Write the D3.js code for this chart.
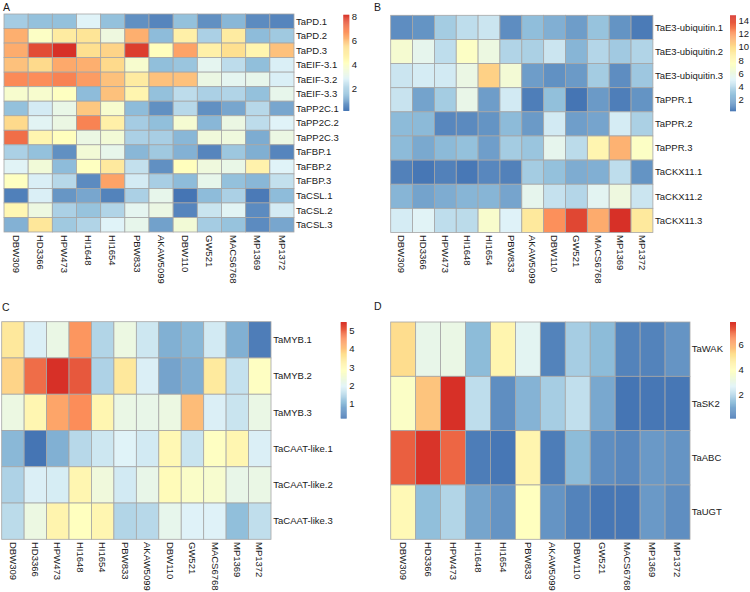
<!DOCTYPE html>
<html>
<head>
<meta charset="utf-8">
<script src="https://cdn.jsdelivr.net/npm/d3@7"></script>
<style>
	body { margin: 0; background: #fff; }
	svg { display: block; }
	text { font-family: "Liberation Sans", Arial, sans-serif; fill: #1a1a1a; }
</style>
</head>
<body>
<script>

// cultivars, same order on every panel
const cultivars = ['DBW309', 'HD3366', 'HPW473', 'HI1648', 'HI1654', 'PBW833', 'AKAW5099', 'DBW110', 'GW521', 'MACS6768', 'MP1369', 'MP1372']

// A
const genesA = ['TaPD.1', 'TaPD.2', 'TaPD.3', 'TaEIF-3.1', 'TaEIF-3.2', 'TaEIF-3.3', 'TaPP2C.1', 'TaPP2C.2', 'TaPP2C.3', 'TaFBP.1', 'TaFBP.2', 'TaFBP.3', 'TaCSL.1', 'TaCSL.2', 'TaCSL.3']
const valuesA = [
	[1.8, 1.5, 1.5, 2.8, 1.5, 0.6, 0.4, 1.5, 0.6, 1.3, 0.5, 0.4],
	[6.3, 4.0, 5.0, 5.3, 3.4, 6.3, 1.4, 4.8, 1.9, 5.0, 1.4, 1.7],
	[6.35, 7.8, 8.2, 5.5, 5.7, 8.0, 4.2, 6.5, 4.8, 5.5, 4.6, 6.0],
	[6.0, 5.6, 6.4, 6.3, 5.6, 3.8, 1.45, 1.6, 3.0, 2.2, 1.45, 2.7],
	[6.9, 6.85, 7.0, 6.6, 6.0, 5.0, 6.0, 6.0, 3.3, 3.0, 3.1, 2.7],
	[3.8, 3.8, 4.1, 1.4, 6.0, 4.6, 1.5, 2.2, 1.9, 2.0, 1.5, 3.1],
	[1.5, 2.6, 3.2, 5.9, 3.8, 1.4, 0.6, 2.1, 0.6, 1.0, 2.1, 1.0],
	[5.6, 2.9, 3.3, 7.0, 4.8, 1.8, 1.45, 3.7, 1.3, 3.3, 2.2, 2.8],
	[7.3, 4.6, 4.2, 3.3, 3.6, 1.9, 1.85, 1.3, 3.5, 3.45, 1.1, 3.3],
	[1.9, 1.5, 0.6, 3.6, 3.1, 1.3, 1.7, 1.2, 0.4, 1.65, 1.15, 0.4],
	[2.85, 3.55, 1.4, 4.1, 5.1, 2.3, 0.6, 4.2, 3.45, 3.2, 4.7, 2.8],
	[4.1, 2.7, 2.1, 0.5, 6.5, 2.6, 1.85, 1.4, 3.1, 1.5, 1.3, 2.3],
	[0.3, 2.7, 0.7, 1.0, 0.35, 1.9, 3.1, 0.1, 1.4, 1.9, 0.2, 1.4],
	[4.5, 3.35, 1.9, 1.55, 2.0, 3.0, 3.3, 0.4, 2.4, 2.9, 0.5, 2.6],
	[1.2, 5.2, 1.7, 2.0, 2.8, 3.1, 0.9, 3.6, 1.8, 1.55, 0.5, 1.0]
]

// B
const genesB = ['TaE3-ubiquitin.1', 'TaE3-ubiquitin.2', 'TaE3-ubiquitin.3', 'TaPPR.1', 'TaPPR.2', 'TaPPR.3', 'TaCKX11.1', 'TaCKX11.2', 'TaCKX11.3']
const valuesB = [
	[1.1, 1.3, 3.3, 4.1, 4.5, 1.1, 2.7, 2.2, 1.6, 2.9, 1.3, 0.5],
	[6.8, 5.6, 4.1, 7.3, 6.1, 3.7, 3.5, 4.5, 2.4, 3.8, 3.2, 3.7],
	[4.5, 4.8, 4.7, 6.0, 10.4, 6.6, 1.6, 1.2, 1.5, 3.3, 1.1, 3.1],
	[4.4, 1.8, 3.3, 5.8, 1.6, 4.7, 0.6, 2.75, 0.3, 1.5, 0.6, 1.3],
	[2.6, 2.55, 0.9, 1.0, 1.3, 2.6, 1.5, 4.7, 1.65, 1.85, 4.8, 3.5],
	[2.6, 2.0, 2.55, 2.8, 1.65, 3.3, 3.0, 5.6, 4.0, 8.3, 11.3, 7.3],
	[0.7, 0.35, 0.7, 0.4, 0.9, 0.7, 3.3, 2.8, 2.1, 2.2, 4.1, 1.3],
	[2.4, 1.8, 2.1, 2.4, 2.4, 1.85, 5.6, 4.3, 3.8, 5.4, 6.2, 4.5],
	[4.8, 5.2, 4.1, 4.0, 7.0, 5.1, 9.3, 12.3, 14.2, 11.5, 14.8, 9.3]
]

// C
const genesC = ['TaMYB.1', 'TaMYB.2', 'TaMYB.3', 'TaCAAT-like.1', 'TaCAAT-like.2', 'TaCAAT-like.3']
const valuesC = [
	[3.5, 1.9, 2.25, 4.5, 1.45, 2.3, 1.75, 0.9, 1.0, 1.8, 0.9, 0.3],
	[3.85, 4.9, 5.48, 5.1, 1.4, 3.5, 1.9, 0.75, 0.88, 3.45, 1.65, 2.8],
	[2.3, 3.1, 4.35, 4.6, 3.1, 2.25, 2.2, 2.3, 4.1, 1.9, 1.7, 2.25],
	[1.0, 0.2, 0.9, 1.5, 1.75, 1.96, 1.8, 3.05, 1.7, 2.8, 3.1, 1.9],
	[1.4, 1.9, 1.85, 3.1, 2.4, 1.8, 2.2, 2.95, 2.7, 2.6, 2.2, 2.25],
	[1.55, 2.3, 3.15, 2.84, 3.1, 1.45, 1.5, 2.15, 1.95, 1.95, 1.08, 1.6]
]

// D
const genesD = ['TaWAK', 'TaSK2', 'TaABC', 'TaUGT']
const valuesD = [
	[5.3, 3.0, 3.1, 1.3, 4.4, 2.8, 0.3, 1.7, 1.3, 0.3, 0.3, 0.6],
	[3.8, 5.7, 7.86, 2.1, 0.5, 1.15, 1.7, 2.15, 0.95, 0.06, 0.1, 0.1],
	[7.2, 7.8, 7.1, 0.2, 0.1, 4.4, 0.2, 1.3, 0.5, 0.4, 0.7, 0.6],
	[4.2, 1.36, 1.9, 0.9, 0.6, 3.96, 0.6, 0.3, 0.1, 0.1, 0.7, 0.5]
]

// reversed RdYlBu (7), as pheatmap uses
const palette = ['#4575B4', '#91BFDB', '#E0F3F8', '#FFFFBF', '#FEE090', '#FC8D59', '#D73027']

const panels = [
	{letter: 'A', lx: 3, ly: 10.7, genes: genesA, values: valuesA, x: 4, y: 14, w: 290, h: 218, labX: 296, colY: 235, legX: 343.3, legY: 14.7, legH: 96},
	{letter: 'B', lx: 374, ly: 10.7, genes: genesB, values: valuesB, x: 390.7, y: 15.3, w: 262.2, h: 217.2, labX: 655, colY: 235, legX: 730, legY: 15.3, legH: 95.7},
	{letter: 'C', lx: 2, ly: 311, genes: genesC, values: valuesC, x: 1.7, y: 321.7, w: 269.3, h: 217.6, labX: 273.3, colY: 542, legX: 340.7, legY: 322, legH: 96.3},
	{letter: 'D', lx: 374, ly: 310, genes: genesD, values: valuesD, x: 390.7, y: 322, w: 299.3, h: 217.3, labX: 691.7, colY: 542, legX: 730, legY: 322, legH: 96.3}
]

const svg = d3.select('body').append('svg')
	.attr('width', 750)
	.attr('height', 592)

panels.forEach(p => {
	const ext = d3.extent(p.values.flat())
	const color = d3.scaleLinear()
		.domain(palette.map((c, i) => ext[0] + i*(ext[1]-ext[0])/(palette.length-1)))
		.range(palette)
		.interpolate(d3.interpolateRgb)

	const x = d3.scaleBand().domain(cultivars).range([p.x, p.x+p.w])
	const y = d3.scaleBand().domain(p.genes).range([p.y, p.y+p.h])

	const g = svg.append('g')

	g.append('text')
		.attr('x', p.lx)
		.attr('y', p.ly)
		.style('font-size', '10.5px')
		.text(p.letter)

	//cells
	const cells = []
	p.values.forEach((row, i) => row.forEach((v, j) => cells.push({gene: p.genes[i], cv: cultivars[j], v: v})))
	g.selectAll('rect.cell').data(cells).join('rect')
		.attr('class', 'cell')
		.attr('x', d => x(d.cv))
		.attr('y', d => y(d.gene))
		.attr('width', x.bandwidth())
		.attr('height', y.bandwidth())
		.attr('fill', d => color(d.v))
		.attr('stroke', '#a6a6a6')
		.attr('stroke-width', 0.8)

	//row labels
	g.selectAll('text.row').data(p.genes).join('text')
		.attr('class', 'row')
		.attr('x', p.labX)
		.attr('y', d => y(d) + y.bandwidth()/2)
		.attr('dy', '0.35em')
		.style('font-size', '9.5px')
		.text(d => d)

	//column labels, rotated
	g.selectAll('text.col').data(cultivars).join('text')
		.attr('class', 'col')
		.attr('transform', d => 'translate(' + (x(d) + x.bandwidth()/2) + ',' + p.colY + ') rotate(90)')
		.attr('dy', '0.35em')
		.style('font-size', '9.5px')
		.text(d => d)

	//legend
	const ly = d3.scaleLinear().domain(ext).range([p.legY + p.legH, p.legY])
	const steps = d3.range(100).map(k => ext[0] + (k + 0.5)*(ext[1]-ext[0])/100)
	const stepH = p.legH/100
	g.selectAll('rect.leg').data(steps).join('rect')
		.attr('class', 'leg')
		.attr('x', p.legX)
		.attr('y', d => ly(d) - stepH/2)
		.attr('width', 6)
		.attr('height', stepH + 0.3)
		.attr('fill', d => color(d))

	g.selectAll('text.tick').data(ly.ticks(5)).join('text')
		.attr('class', 'tick')
		.attr('x', p.legX + 8.5)
		.attr('y', d => ly(d))
		.attr('dy', '0.35em')
		.style('font-size', '9.5px')
		.text(d => d)
})

</script>
</body>
</html>
